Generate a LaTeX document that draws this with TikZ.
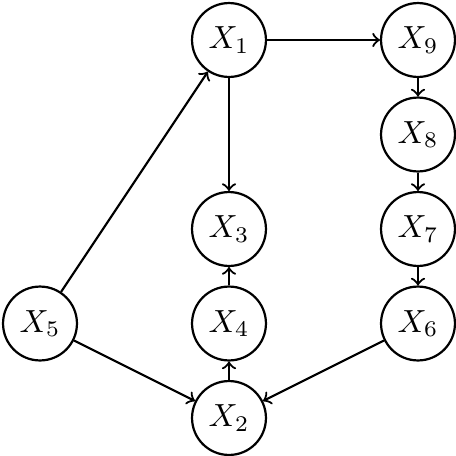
\documentclass[tikz,border=0pt]{standalone}
\begin{document}
\begin{tikzpicture}[x=0.3125pt,y=-0.3125pt,
  vnode/.style={circle,draw,line width=0.69pt,minimum size=23.1pt,inner sep=0pt},
  edge/.style={->,line width=0.69pt}]
\useasboundingbox (0,0) rectangle (456,456);
\node[vnode] (x1) at (229,40) {$X_1$};
\node[vnode] (x9) at (418,40) {$X_9$};
\node[vnode] (x8) at (418,134.5) {$X_8$};
\node[vnode] (x3) at (229,229) {$X_3$};
\node[vnode] (x7) at (418,229) {$X_7$};
\node[vnode] (x5) at (40,323.5) {$X_5$};
\node[vnode] (x4) at (229,323.5) {$X_4$};
\node[vnode] (x6) at (418,323.5) {$X_6$};
\node[vnode] (x2) at (229,418) {$X_2$};
\draw[edge] (x1) -- (x9);
\draw[edge] (x1) -- (x3);
\draw[edge] (x9) -- (x8);
\draw[edge] (x8) -- (x7);
\draw[edge] (x7) -- (x6);
\draw[edge] (x6) -- (x2);
\draw[edge] (x5) -- (x1);
\draw[edge] (x5) -- (x2);
\draw[edge] (x2) -- (x4);
\draw[edge] (x4) -- (x3);
\end{tikzpicture}
\end{document}
